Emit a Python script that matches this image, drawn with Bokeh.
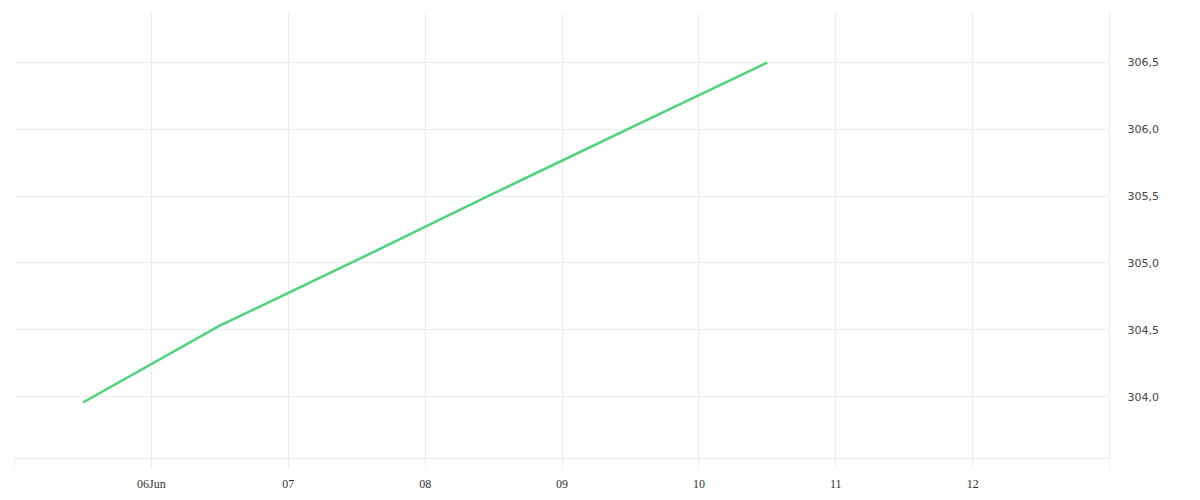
from datetime import datetime
from bokeh.plotting import figure
from bokeh.models import FixedTicker, Range1d
from bokeh.embed import file_html
from bokeh.resources import INLINE

# Data
dates = ["2024-06-05 12:00", "2024-06-06 12:00", "2024-06-07 12:00",
         "2024-06-08 12:00", "2024-06-09 12:00", "2024-06-10 12:00"]
values = [303.955, 304.53, 305.02, 305.52, 306.01, 306.5]
x_tick_days = ["2024-06-05", "2024-06-06", "2024-06-07", "2024-06-08", "2024-06-09",
               "2024-06-10", "2024-06-11", "2024-06-12", "2024-06-13"]
x_tick_labels = ["", "06Jun", "07", "08", "09", "10", "11", "12", ""]
y_ticks = [304.0, 304.5, 305.0, 305.5, 306.0, 306.5]
y_tick_labels = ["304,0", "304,5", "305,0", "305,5", "306,0", "306,5"]

xs = [datetime.strptime(d, "%Y-%m-%d %H:%M") for d in dates]
def ms(d):
    return (datetime.strptime(d, "%Y-%m-%d") - datetime(1970, 1, 1)).total_seconds() * 1000.0
xt = [ms(d) for d in x_tick_days]

p = figure(frame_width=1095, frame_height=446, x_axis_type="datetime",
           y_axis_location="right", output_backend="svg", toolbar_location=None,
           min_border_left=14, min_border_top=12, min_border_right=10, min_border_bottom=5)
p.x_range = Range1d(xt[0], xt[-1])
p.y_range = Range1d(303.536, 306.874)
p.outline_line_color = None
p.background_fill_color = "white"

p.line(xs, values, line_color="#4cd47b", line_width=2.5)

grid_col = "#ebebeb"
xa = p.xaxis[0]
xa.ticker = FixedTicker(ticks=xt)
xa.major_label_overrides = {t: l for t, l in zip(xt, x_tick_labels)}
xa.axis_line_color = grid_col
xa.major_tick_line_color = grid_col
xa.major_tick_out = 10
xa.major_tick_in = 0
xa.minor_tick_line_color = None
xa.major_label_text_font = "Liberation Serif"
xa.major_label_text_font_size = "12px"
xa.major_label_text_color = "#333333"
xa.major_label_standoff = 8

ya = p.yaxis[0]
ya.ticker = FixedTicker(ticks=y_ticks)
ya.major_label_overrides = {t: l for t, l in zip(y_ticks, y_tick_labels)}
ya.axis_line_color = grid_col
ya.major_tick_line_color = None
ya.minor_tick_line_color = None
ya.major_label_text_font = "DejaVu Sans"
ya.major_label_text_font_size = "11px"
ya.major_label_text_color = "#444444"
ya.major_label_standoff = 12

p.xgrid.ticker = FixedTicker(ticks=xt)
p.ygrid.ticker = FixedTicker(ticks=y_ticks)
p.xgrid.grid_line_color = grid_col
p.ygrid.grid_line_color = grid_col

open("out.html", "w").write(file_html(p, INLINE))
